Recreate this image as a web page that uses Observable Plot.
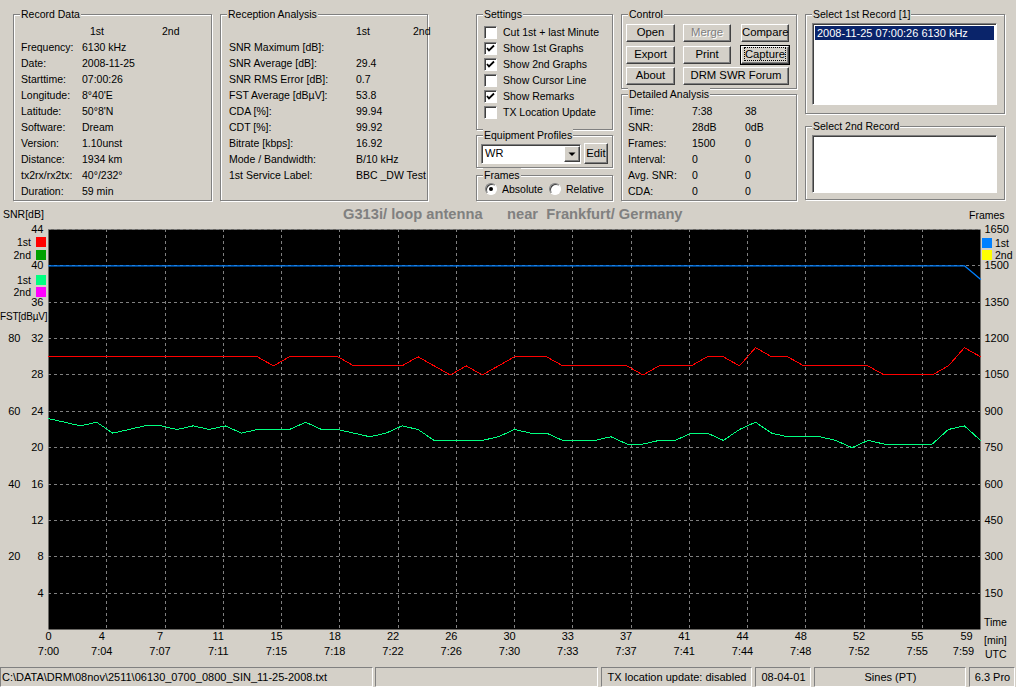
<!DOCTYPE html>
<html>
<head>
<meta charset="utf-8">
<script src="https://cdn.jsdelivr.net/npm/d3@7"></script>
<script src="https://cdn.jsdelivr.net/npm/@observablehq/plot@0.6"></script>
<style>
  body { margin:0; width:1016px; height:687px; background:#d4d0c8; position:relative; overflow:hidden;
         font:10.5px "Liberation Sans", Arial, sans-serif; color:#000; }
  .a { position:absolute; white-space:pre; line-height:14px; }
  .grp { position:absolute; border:1px solid #808080; box-shadow: inset 1px 1px 0 #fff, 1px 1px 0 #fff; }
  .grp .t { position:absolute; top:-8px; left:6px; background:#d4d0c8; padding:0 1px; line-height:14px; white-space:pre; }
  .btn { position:absolute; box-sizing:border-box; background:#d4d0c8; border:1px solid; border-color:#fff #404040 #404040 #fff;
         box-shadow: inset -1px -1px 0 #808080; text-align:center; line-height:15px; font-size:11.3px; white-space:pre; }
  .sunk { position:absolute; box-sizing:border-box; background:#fff; border:1px solid; border-color:#808080 #fff #fff #808080;
          box-shadow: inset 1px 1px 0 #404040; }
  .stat { position:absolute; top:667px; height:20px; box-sizing:border-box; border:1px solid; border-color:#808080 #fff #fff #808080;
          line-height:18px; white-space:pre; overflow:hidden; font-size:11px; }
  .sw { position:absolute; width:10px; height:10px; }
  #ui { position:absolute; left:0; top:0; z-index:2; }
</style>
</head>
<body>
<div id="ui"></div>
<div id="chart" style="position:absolute;left:0;top:200px;z-index:1"></div>
<script>
// one value per minute of the 1st record (07:00 .. 07:59 UTC)
const snr1 = [30,30,30,30,30,30,30,30,30,30,30,30,30,30, 29, 30,30,30,30, 29,29,29,29, 30, 29, 28, 29, 28, 29,
              30,30,30, 29,29,29,29,29, 28, 29,29,29, 30,30, 29, 31, 30,30, 29,29,29,29,29, 28,28,28,28, 29, 31, 30];
const fst1 = [58,57,56,57,54,55,56,56,55,56,55,56,54,55,55,55,57,55,55,54,53,54,56,55,52,52,52,52,53,55,
              54,54,52,52,52,53,51,51,52,52,54,54,52,55,57,54,53,53,53,52,50,52,51,51,51,51,55,56,52];
const frames1 = [1500,1500,1500,1500,1500,1500,1500,1500,1500,1500,1500,1500,1500,1500,1500,1500,1500,1500,1500,1500,
                 1500,1500,1500,1500,1500,1500,1500,1500,1500,1500,1500,1500,1500,1500,1500,1500,1500,1500,1500,1500,
                 1500,1500,1500,1500,1500,1500,1500,1500,1500,1500,1500,1500,1500,1500,1500,1500,1500,1500,1445];

// axis ticks
const snrTicks = [4,8,12,16,20,24,28,32,36,40,44];
const fstTicks = [20,40,60,80];
const frameTicks = [150,300,450,600,750,900,1050,1200,1350,1500,1650];
const minLabels = ["0","4","7","11","15","18","22","26","30","33","37","41","44","48","52","55","59"];
const utcLabels = ["7:00","7:04","7:07","7:11","7:15","7:18","7:22","7:26","7:30","7:33","7:37","7:41","7:44","7:48","7:52","7:55","7:59"];

// panel texts
const recordLabels = ["Frequency:","Date:","Starttime:","Longitude:","Latitude:","Software:","Version:","Distance:","tx2rx/rx2tx:","Duration:"];
const recordFirst = ["6130 kHz","2008-11-25","07:00:26","8°40'E","50°8'N","Dream","1.10unst","1934 km","40°/232°","59 min"];
const receptionLabels = ["SNR Maximum [dB]:","SNR Average [dB]:","SNR RMS Error [dB]:","FST Average [dBµV]:","CDA [%]:","CDT [%]:","Bitrate [kbps]:","Mode / Bandwidth:","1st Service Label:"];
const receptionFirst = ["","29.4","0.7","53.8","99.94","99.92","16.92","B/10 kHz","BBC _DW Test"];
const settings = [["Cut 1st + last Minute",false],["Show 1st Graphs",true],["Show 2nd Graphs",true],["Show Cursor Line",false],["Show Remarks",true],["TX Location Update",false]];
const detailLabels = ["Time:","SNR:","Frames:","Interval:","Avg. SNR:","CDA:"];
const detailFirst = ["7:38","28dB","1500","0","0","0"];
const detailSecond = ["38","0dB","0","0","0","0"];

const ui = document.getElementById("ui");
function add(cls, x, y, w, h, html = "", style = "") {
  const el = document.createElement("div");
  el.className = cls;
  el.style.cssText = `left:${x}px;top:${y}px;` + (w != null ? `width:${w}px;` : "") + (h != null ? `height:${h}px;` : "") + style;
  el.innerHTML = html;
  ui.appendChild(el);
  return el;
}
const txt = (x, cy, s, style = "") => add("a", x, cy - 7, null, null, s, style);
const grp = (x, y, w, h, t) => add("grp", x, y, w, h, `<span class="t">${t}</span>`);

// Record Data
grp(13, 14, 197, 185, "Record Data");
txt(90, 31, "1st"); txt(162, 31, "2nd");
recordLabels.forEach((s, i) => { txt(21, 47 + 16 * i, s); txt(82, 47 + 16 * i, recordFirst[i]); });

// Reception Analysis
grp(220, 14, 206, 185, "Reception Analysis");
txt(356, 31, "1st"); txt(413, 31, "2nd");
receptionLabels.forEach((s, i) => { txt(229, 47 + 16 * i, s); txt(356, 47 + 16 * i, receptionFirst[i]); });

// Settings
grp(476, 14, 135, 114, "Settings");
const tick = '<svg width="11" height="11" style="position:absolute;left:0;top:0"><path d="M2 5 L4 7.5 L9 2.5" stroke="#000" stroke-width="1.8" fill="none"/></svg>';
settings.forEach(([s, on], i) => {
  const cy = 32 + 16 * i;
  add("sunk", 484, cy - 6, 13, 13, on ? tick : "");
  txt(503, cy, s);
});

// Equipment Profiles
grp(476, 135, 135, 31, "Equipment Profiles");
add("sunk", 481, 144, 100, 20, '<span style="position:absolute;left:3px;top:2px;font-size:11px">WR</span>');
add("btn", 564, 146, 16, 16, '<svg width="14" height="14" style="position:absolute;left:0;top:0"><path d="M3.5 5.5 L10.5 5.5 L7 9 Z" fill="#000"/></svg>');
add("btn", 584, 143, 24, 21, "Edit", "line-height:19px");

// Frames
grp(476, 175, 135, 24, "Frames");
add("sunk", 485, 183, 12, 12, '<div style="position:absolute;left:3px;top:3px;width:4px;height:4px;border-radius:50%;background:#000"></div>', "border-radius:50%");
txt(502, 189, "Absolute");
add("sunk", 549, 183, 12, 12, "", "border-radius:50%");
txt(566, 189, "Relative");

// Control
grp(621, 14, 174, 73, "Control");
add("btn", 626, 24, 49, 18, "Open");
add("btn", 683, 24, 48, 18, "Merge", "color:#808080;text-shadow:1px 1px 0 #fff");
add("btn", 741, 24, 48, 18, "Compare");
add("btn", 626, 46, 49, 18, "Export");
add("btn", 683, 46, 48, 18, "Print");
add("btn", 741, 46, 48, 18, '<span style="outline:1px dotted #000">Capture</span>', "outline:1px solid #000");
add("btn", 626, 67, 49, 18, "About");
add("btn", 683, 67, 106, 18, "DRM SWR Forum");

// Detailed Analysis
grp(621, 94, 174, 105, "Detailed Analysis");
detailLabels.forEach((s, i) => {
  const cy = 111 + 16 * i;
  txt(628, cy, s); txt(692, cy, detailFirst[i]); txt(745, cy, detailSecond[i]);
});

// record selectors
grp(805, 14, 198, 98, "Select 1st Record [1]");
add("sunk", 812, 23, 185, 82);
add("a", 815, 26, 179, 14, "2008-11-25 07:00:26 6130 kHz", "background:#0a246a;color:#fff;padding-left:2px;box-sizing:border-box;font-size:11px");
grp(805, 126, 198, 72, "Select 2nd Record");
add("sunk", 812, 135, 185, 58);

// chart side labels and legends
txt(3, 214, "SNR[dB]");
txt(0, 317, "FST[dBµV]", "font-size:10px;letter-spacing:-0.2px");
txt(969, 215, "Frames");
txt(984, 622, "Time");
txt(984, 640, "[min]");
txt(985, 654, "UTC");
const leftKey = [["1st", "#ff0000", 242], ["2nd", "#00a000", 255], ["1st", "#00ff80", 280], ["2nd", "#ff00ff", 291.5]];
leftKey.forEach(([s, c, cy]) => {
  add("sw", 36, cy - 5, null, null, "", `background:${c}`);
  txt(0, cy, s, "width:31px;text-align:right");
});
const rightKey = [["1st", "#0080ff", 243], ["2nd", "#ffff00", 255]];
rightKey.forEach(([s, c, cy]) => {
  add("sw", 982, cy - 5, null, null, "", `background:${c}`);
  txt(995, cy, s);
});
txt(343, 214, "G313i/ loop antenna      near  Frankfurt/ Germany", "font-weight:bold;font-size:14.7px;color:#808080");

// status bar
const statusPanels = [[0, 373, "C:\\DATA\\DRM\\08nov\\2511\\06130_0700_0800_SIN_11-25-2008.txt", "left"],
  [375, 598, "", "left"], [601, 752, "TX location update: disabled", "center"], [755, 811, "08-04-01", "center"],
  [814, 966, "Sines (PT)", "center"], [969, 1015, "6.3 Pro", "center"]];
statusPanels.forEach(([x0, x1, s, al]) => add("stat", x0, 667, x1 - x0, null, s, `text-align:${al};padding-left:1px`));

// chart
const framesPerDb = 1650 / 44;   // right axis: 1650 frames at the 44 dB line
const fstPerDb = 2.5;            // FST scale: 80 dBµV at the 32 dB line
const step = 58 / 16;            // one time grid division, in samples
const gridX = d3.range(17).map(i => i * step);
const labelDx = i => (i === 0 ? 0 : i === 16 ? -14 : -5);
const rows = snr1.map((snr, i) => ({i, snr, fst: fst1[i], frames: frames1[i]}));
const dash = {stroke: "#808080", strokeDasharray: "3,3", shapeRendering: "crispEdges"};
const pen = {strokeWidth: 1, shapeRendering: "crispEdges"};

// the time labels sit a little left of their grid line, the last one pulled in further
const timeRow = (labels, dy, extra) => [0, 1, 16].map(k =>
  Plot.text(labels, {
    x: (d, i) => gridX[i],
    filter: (d, i) => (k === 1 ? i > 0 && i < 16 : i === k),
    frameAnchor: "bottom", dy, dx: labelDx(k) + (k === 16 ? extra : 0), fill: "#000"
  }));

const chart = Plot.plot({
  width: 1016,
  height: 467,
  marginTop: 29,
  marginBottom: 38,
  marginLeft: 48,
  marginRight: 36,
  style: {background: "transparent", fontFamily: '"Liberation Sans", Arial, sans-serif', fontSize: "11px", color: "#000", overflow: "visible"},
  x: {domain: [0, 58], axis: null},
  y: {domain: [0, 44], axis: null},
  marks: [
    Plot.frame({fill: "#000"}),
    Plot.ruleY(snrTicks, dash),
    Plot.ruleX(gridX.slice(1, 16), dash),
    // frames sit on the 40 dB grid line, so draw that one smooth and a touch wider
    Plot.line(rows, {x: "i", y: d => d.frames / framesPerDb, stroke: "#0080ff", strokeWidth: 1.3}),
    Plot.line(rows, {x: "i", y: "snr", stroke: "#ff0000", ...pen}),
    Plot.line(rows, {x: "i", y: d => d.fst / fstPerDb, stroke: "#00ff80", ...pen}),
    Plot.axisY(snrTicks, {anchor: "left", tickSize: 0, tickPadding: 5, label: null}),
    Plot.axisY(fstTicks.map(v => v / fstPerDb), {anchor: "left", tickSize: 0, tickPadding: 28, tickFormat: d => String(d * fstPerDb), label: null}),
    Plot.axisY(frameTicks.map(v => v / framesPerDb), {anchor: "right", tickSize: 0, tickPadding: 4, tickFormat: d => String(Math.round(d * framesPerDb)), label: null}),
    ...timeRow(minLabels, 10.5, 0),
    ...timeRow(utcLabels, 25.5, -3)
  ]
});
document.getElementById("chart").append(chart);
</script>
</body>
</html>
